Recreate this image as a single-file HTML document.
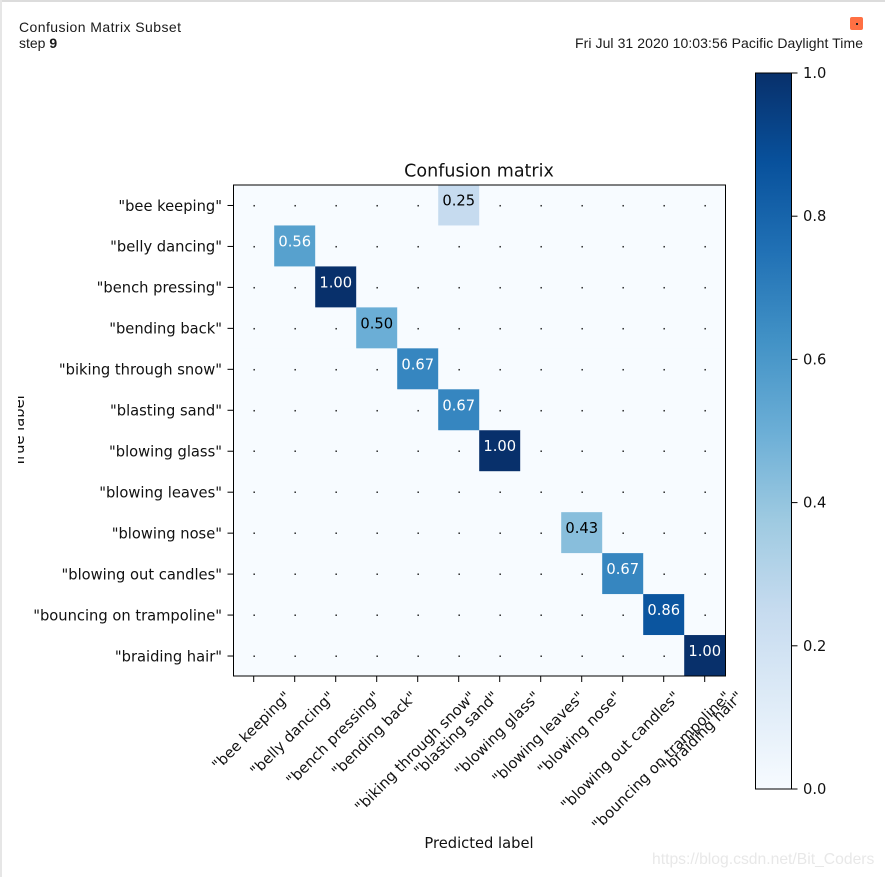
<!DOCTYPE html>
<html><head><meta charset="utf-8"><title>Confusion Matrix Subset</title>
<style>
html,body{margin:0;padding:0;background:#fff;}
body{width:885px;height:877px;overflow:hidden;position:relative;}
svg{position:absolute;left:0;top:0;display:block;}
text{font-family:"DejaVu Sans",sans-serif;fill:#111;}
.hdr{font-family:"Liberation Sans",sans-serif;font-size:14px;fill:#1a1a1a;}
</style></head><body>
<svg id="c" width="885" height="877" viewBox="0 0 885 877">
<defs>
<linearGradient id="cbg" x1="0" y1="1" x2="0" y2="0">
<stop offset="0" stop-color="#f7fbff"/><stop offset="0.125" stop-color="#deebf7"/><stop offset="0.25" stop-color="#c6dbef"/><stop offset="0.375" stop-color="#9ecae1"/><stop offset="0.5" stop-color="#6baed6"/><stop offset="0.625" stop-color="#4292c6"/><stop offset="0.75" stop-color="#2171b5"/><stop offset="0.875" stop-color="#08519c"/><stop offset="1" stop-color="#08306b"/>
</linearGradient>
<clipPath id="ylabClip"><rect x="18" y="380" width="30" height="100"/></clipPath>
</defs>
<rect x="0" y="0" width="885" height="2" fill="#dcdcdc"/>
<rect x="0" y="0" width="2" height="877" fill="#e6e6e6"/>
<text class="hdr" x="19" y="32" textLength="162" lengthAdjust="spacing">Confusion Matrix Subset</text>
<text class="hdr" x="19" y="48">step <tspan font-weight="bold">9</tspan></text>
<text class="hdr" x="575" y="48" textLength="288" lengthAdjust="spacing">Fri Jul 31 2020 10:03:56 Pacific Daylight Time</text>
<rect x="850" y="17" width="13" height="13" rx="2" fill="#ff7043"/>
<rect x="856" y="23" width="2" height="2" fill="#222"/>
<g id="plot"></g>
<g id="cbar"></g>
<text x="479" y="848" text-anchor="middle" font-size="14.7">Predicted label</text>
<g clip-path="url(#ylabClip)"><text transform="translate(24,431) rotate(-90)" text-anchor="middle" font-size="14.7">True label</text></g>
<text x="479" y="176.5" text-anchor="middle" font-size="17.5">Confusion matrix</text>
<text x="652" y="864" font-size="15.7" style="font-family:'Liberation Sans',sans-serif;fill:#e8e8e8">https://blog.csdn.net/Bit_Coders</text>
</svg>
<script>
const classLabels = ['"bee keeping"','"belly dancing"','"bench pressing"','"bending back"','"biking through snow"','"blasting sand"','"blowing glass"','"blowing leaves"','"blowing nose"','"blowing out candles"','"bouncing on trampoline"','"braiding hair"'];
const matrixRow0 = [0,0,0,0,0,0.25,0,0,0,0,0,0];
const matrixRow1 = [0,0.56,0,0,0,0,0,0,0,0,0,0];
const matrixRow2 = [0,0,1,0,0,0,0,0,0,0,0,0];
const matrixRow3 = [0,0,0,0.5,0,0,0,0,0,0,0,0];
const matrixRow4 = [0,0,0,0,0.67,0,0,0,0,0,0,0];
const matrixRow5 = [0,0,0,0,0,0.67,0,0,0,0,0,0];
const matrixRow6 = [0,0,0,0,0,0,1,0,0,0,0,0];
const matrixRow7 = [0,0,0,0,0,0,0,0,0,0,0,0];
const matrixRow8 = [0,0,0,0,0,0,0,0,0.43,0,0,0];
const matrixRow9 = [0,0,0,0,0,0,0,0,0,0.67,0,0];
const matrixRow10 = [0,0,0,0,0,0,0,0,0,0,0.86,0];
const matrixRow11 = [0,0,0,0,0,0,0,0,0,0,0,1];
const matrix = [matrixRow0,matrixRow1,matrixRow2,matrixRow3,matrixRow4,matrixRow5,matrixRow6,matrixRow7,matrixRow8,matrixRow9,matrixRow10,matrixRow11];
const colorbarTicks = [0,0.2,0.4,0.6,0.8,1];

const NS='http://www.w3.org/2000/svg';
const AX={l:233.5,r:725.5,t:184.5,b:676};
const CB={l:755.5,r:791.5,t:73,b:789};
const STOPS=[[247,251,255],[222,235,247],[198,219,239],[158,202,225],[107,174,214],[66,146,198],[33,113,181],[8,81,156],[8,48,107]];
const FS=14.7;
const vmin=0,vmax=1;
const n=classLabels.length;
const cw=(AX.r-AX.l)/n, ch=(AX.b-AX.t)/n;
const xPos=i=>AX.l-0.3+cw*i;
const yPos=j=>AX.t+ch*j;
const cbY=v=>CB.b-(v-vmin)/(vmax-vmin)*(CB.b-CB.t);
function blues(v){
  const t=Math.max(0,Math.min(1,(v-vmin)/(vmax-vmin)))*(STOPS.length-1);
  const k=Math.min(STOPS.length-2,Math.floor(t)),f=t-k;
  const c=STOPS[k].map((a,m)=>Math.round(a+(STOPS[k+1][m]-a)*f));
  return 'rgb('+c.join(',')+')';
}
function mk(parent,tag,attrs,txt){
  const e=document.createElementNS(NS,tag);
  for(const k in attrs)e.setAttribute(k,attrs[k]);
  if(txt!==undefined)e.textContent=txt;
  parent.appendChild(e);
  return e;
}
const plot=document.getElementById('plot');
const cbar=document.getElementById('cbar');
const thresh=Math.max(...matrix.flat())/2;
for(let j=0;j<n;j++){
  for(let i=0;i<n;i++){
    const v=matrix[j][i];
    const cell=mk(plot,'rect',{x:xPos(i),y:yPos(j),width:cw+0.3,height:ch+0.3,fill:blues(v)});
    
    
  }
}
for(let j=0;j<n;j++){
  for(let i=0;i<n;i++){
    const v=matrix[j][i];
    const lab=mk(plot,'text',{x:xPos(i)+cw/2+(v?0:0.5),y:yPos(j)+ch/2+(v?0.5:1.5),'text-anchor':'middle','font-size':v?FS:12,style:'fill:'+(v>thresh?'#fff':'#000')},v?v.toFixed(2):'.');
    
    
  }
}
const frame=mk(plot,'rect',{x:AX.l,y:AX.t+0.5,width:AX.r-AX.l,height:AX.b-AX.t-0.5,fill:'none',stroke:'#000','stroke-width':1});


for(let k=0;k<n;k++){
  const y=yPos(k)+ch/2+0.5;
  const yt=mk(plot,'line',{x1:AX.l-6,x2:AX.l,y1:y,y2:y,stroke:'#000','stroke-width':1});
  
  
  const yl=mk(plot,'text',{x:222,y:y+5.3,'text-anchor':'end','font-size':FS},classLabels[k]);
  
  
  const x=xPos(k)+cw/2;
  const xt=mk(plot,'line',{x1:x,x2:x,y1:AX.b,y2:AX.b+6,stroke:'#000','stroke-width':1});
  
  
  const xl=mk(plot,'text',{'text-anchor':'middle','font-size':FS},classLabels[k]);
  
  
  const w=xl.getComputedTextLength();
  const half=(w+17)*Math.SQRT1_2/2;
  xl.setAttribute('transform','translate('+(x-2.5)+','+(688+half)+') rotate(-45) translate(0,5)');
}
const bar=mk(cbar,'rect',{x:CB.l,y:CB.t,width:CB.r-CB.l,height:CB.b-CB.t,fill:'url(#cbg)',stroke:'#000','stroke-width':1});


colorbarTicks.forEach(v=>{
  const y=cbY(v);
  const t=mk(cbar,'line',{x1:CB.r,x2:CB.r+6,y1:y,y2:y,stroke:'#000','stroke-width':1});
  
  
  const l=mk(cbar,'text',{x:803,y:y+5,'font-size':FS},v.toFixed(1));
  
  
});
</script>
</body></html>
